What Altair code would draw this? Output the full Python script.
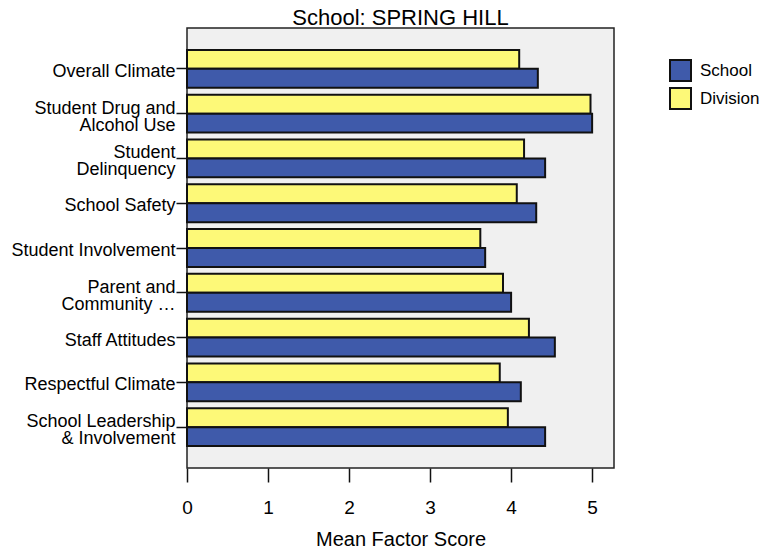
import altair as alt
import pandas as pd

categories = [
    "Overall Climate",
    "Student Drug and|Alcohol Use",
    "Student|Delinquency",
    "School Safety",
    "Student Involvement",
    "Parent and|Community …",
    "Staff Attitudes",
    "Respectful Climate",
    "School Leadership|& Involvement",
]
school = [4.33, 5.00, 4.42, 4.31, 3.68, 4.00, 4.54, 4.12, 4.42]
division = [4.10, 4.98, 4.16, 4.07, 3.62, 3.90, 4.22, 3.86, 3.96]
series = ["School", "Division"]
colors = ["#3F5AAA", "#FDF978"]
ticks = [0, 1, 2, 3, 4, 5]

rows = []
for c, s, d in zip(categories, school, division):
    rows.append({"Factor": c, "Group": "Division", "Score": d})
    rows.append({"Factor": c, "Group": "School", "Score": s})
df = pd.DataFrame(rows)

font = "Liberation Sans"

chart = (
    alt.Chart(df)
    .mark_bar(stroke="#111111", strokeWidth=2)
    .encode(
        y=alt.Y(
            "Factor:N",
            sort=categories,
            scale=alt.Scale(paddingInner=0.155, paddingOuter=0.49),
            axis=alt.Axis(
                title=None,
                labelExpr="split(datum.label, '|')",
                labelFontSize=18,
                labelFont=font,
                labelColor="black",
                labelLineHeight=17,
                labelPadding=1,
                labelOffset={
                    "condition": {"test": "indexof(datum.label, '|') >= 0", "value": -5},
                    "value": 3,
                },
                labelLimit=300,
                tickSize=11,
                tickColor="#111111",
                tickWidth=1.5,
                domain=False,
                grid=False,
            ),
        ),
        yOffset=alt.YOffset("Group:N", sort=["Division", "School"]),
        x=alt.X(
            "Score:Q",
            scale=alt.Scale(domain=[0, 5.27], nice=False),
            axis=alt.Axis(
                title="Mean Factor Score",
                values=ticks,
                format="d",
                labelFontSize=19,
                labelFont=font,
                labelColor="black",
                labelPadding=16,
                labelFlush=False,
                tickSize=14,
                tickColor="#111111",
                tickWidth=1.5,
                titleFontSize=20,
                titleFont=font,
                titleFontWeight="normal",
                titleColor="black",
                titlePadding=12,
                domain=False,
                grid=False,
            ),
        ),
        fill=alt.Fill(
            "Group:N",
            scale=alt.Scale(domain=series, range=colors),
            legend=alt.Legend(
                title=None,
                orient="none",
                legendX=482,
                legendY=31,
                symbolType="square",
                symbolSize=441,
                symbolStrokeColor="#111111",
                symbolStrokeWidth=2,
                labelFontSize=17,
                labelFont=font,
                labelColor="black",
                labelOffset=8,
                labelLimit=200,
                rowPadding=-1,
                padding=0,
            ),
        ),
    )
    .properties(
        width=427,
        height=440,
        background="white",
        title=alt.TitleParams(
            "School: SPRING HILL",
            fontSize=22,
            font=font,
            fontWeight="normal",
            color="black",
            anchor="middle",
            offset=-2,
        ),
        autosize=alt.AutoSizeParams(type="none"),
        padding={"left": 179, "top": 20, "right": 145, "bottom": 82},
    )
    .configure_view(fill="#F0F0F0", stroke="#222222", strokeWidth=1.5)
)

chart.save("out.html", embed_options={"renderer": "svg", "actions": False})
